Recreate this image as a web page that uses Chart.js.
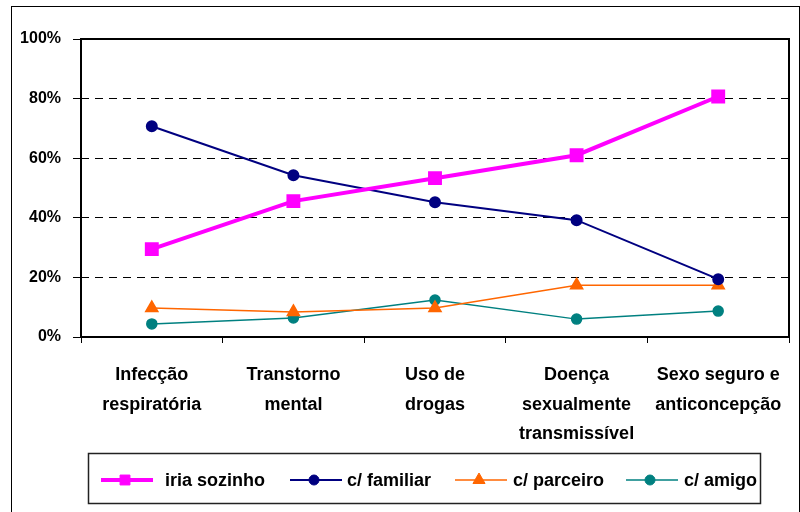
<!DOCTYPE html>
<html>
<head>
<meta charset="utf-8">
<script src="https://cdn.jsdelivr.net/npm/chart.js@4/dist/chart.umd.min.js"></script>
<style>
  html, body { margin: 0; padding: 0; background: #fff; }
  #wrap { width: 800px; height: 512px; position: relative; }
</style>
</head>
<body>
<div id="wrap"><canvas id="chart" width="800" height="512"></canvas></div>
<script>
// Categories (multi-line labels)
const categories = [
    ['Infecção', 'respiratória'],
    ['Transtorno', 'mental'],
    ['Uso de', 'drogas'],
    ['Doença', 'sexualmente', 'transmissível'],
    ['Sexo seguro e', 'anticoncepção']
];

// Series values (%)
const iriaSozinho = [29.5, 45.6, 53.3, 61.0, 80.7];
const comFamiliar = [70.7, 54.3, 45.2, 39.2, 19.4];
const comParceiro = [9.7, 8.4, 9.7, 17.4, 17.4];
const comAmigo = [4.4, 6.4, 12.4, 6.0, 8.7];

const seriesNames = ['iria sozinho', 'c/ familiar', 'c/ parceiro', 'c/ amigo'];
const yTicks = [0, 20, 40, 60, 80, 100];

const FONT = 'Arial, "Liberation Sans", sans-serif';

// Frame, outer border and legend drawn on canvas
const framePlugin = {
    id: 'frame',
    afterDraw(chart) {
        const { ctx, chartArea: a } = chart;
        ctx.save();
        // outer border
        ctx.strokeStyle = '#000';
        ctx.lineWidth = 1;
        ctx.strokeRect(11.5, 6.5, 788, 520);
        // plot frame
        ctx.lineWidth = 2;
        ctx.strokeRect(a.left, a.top, a.right - a.left, a.bottom - a.top);

        // legend box
        ctx.lineWidth = 1.5;
        ctx.strokeStyle = '#222';
        ctx.strokeRect(88.5, 453.5, 672, 50);

        const items = [
            { x: 101, text: 165 },
            { x: 290, text: 347 },
            { x: 455, text: 513 },
            { x: 626, text: 684 }
        ];
        const y = 480;
        chart.data.datasets.forEach((ds, i) => {
            const it = items[i];
            ctx.strokeStyle = ds.borderColor;
            ctx.lineWidth = ds.borderWidth;
            ctx.beginPath();
            ctx.moveTo(it.x, y);
            ctx.lineTo(it.x + 52, y);
            ctx.stroke();
            ctx.fillStyle = ds.pointBackgroundColor;
            ctx.strokeStyle = ds.pointBorderColor;
            ctx.lineWidth = 1;
            Chart.helpers.drawPoint(ctx, {
                pointStyle: ds.pointStyle,
                radius: ds.pointRadius,
                borderWidth: 1
            }, it.x + 24, y);
            ctx.fillStyle = '#000';
            ctx.font = 'bold 18px ' + FONT;
            ctx.textBaseline = 'middle';
            ctx.textAlign = 'left';
            ctx.fillText(ds.label, it.text, y + 1);
        });
        ctx.restore();
    }
};

const ctx = document.getElementById('chart');

new Chart(ctx, {
    type: 'line',
    data: {
        labels: categories,
        datasets: [{
            label: seriesNames[0],
            data: iriaSozinho,
            borderColor: '#FF00FF',
            backgroundColor: '#FF00FF',
            pointBackgroundColor: '#FF00FF',
            pointBorderColor: '#FF00FF',
            borderWidth: 4,
            pointStyle: 'rect',
            pointRadius: 7
        }, {
            label: seriesNames[1],
            data: comFamiliar,
            borderColor: '#000080',
            backgroundColor: '#000080',
            pointBackgroundColor: '#000080',
            pointBorderColor: '#000080',
            borderWidth: 2,
            pointStyle: 'circle',
            pointRadius: 5
        }, {
            label: seriesNames[2],
            data: comParceiro,
            borderColor: '#FF6600',
            backgroundColor: '#FF6600',
            pointBackgroundColor: '#FF6600',
            pointBorderColor: '#FF6600',
            borderWidth: 1.5,
            pointStyle: 'triangle',
            pointRadius: 7
        }, {
            label: seriesNames[3],
            data: comAmigo,
            borderColor: '#008080',
            backgroundColor: '#008080',
            pointBackgroundColor: '#008080',
            pointBorderColor: '#008080',
            borderWidth: 1.5,
            pointStyle: 'circle',
            pointRadius: 5
        }]
    },
    options: {
        responsive: false,
        animation: false,
        layout: {
            padding: { left: 0, top: 39, right: 9, bottom: 0 }
        },
        plugins: {
            legend: { display: false },
            tooltip: { enabled: false }
        },
        elements: {
            line: { tension: 0 },
            point: { borderWidth: 1 }
        },
        scales: {
            x: {
                offset: true,
                grid: {
                    offset: true,
                    drawOnChartArea: false,
                    color: '#000',
                    tickLength: 6
                },
                border: { display: false },
                ticks: {
                    color: '#000',
                    padding: 17,
                    maxRotation: 0,
                    autoSkip: false,
                    font: { family: FONT, size: 18, weight: 'bold', lineHeight: 1.65 }
                },
                afterFit(scale) { scale.height = 175; }
            },
            y: {
                min: 0,
                max: 100,
                afterBuildTicks(scale) {
                    scale.ticks = yTicks.map(v => ({ value: v }));
                },
                grid: {
                    color: '#000',
                    lineWidth: 1,
                    tickLength: 8,
                    tickColor: '#000'
                },
                border: { display: false, dash: [8, 6] },
                ticks: {
                    color: '#000',
                    padding: 12,
                    font: { family: FONT, size: 16, weight: 'bold' },
                    callback: (value) => value + '%'
                },
                afterFit(scale) { scale.width = 81; }
            }
        }
    },
    plugins: [framePlugin]
});
</script>
</body>
</html>
